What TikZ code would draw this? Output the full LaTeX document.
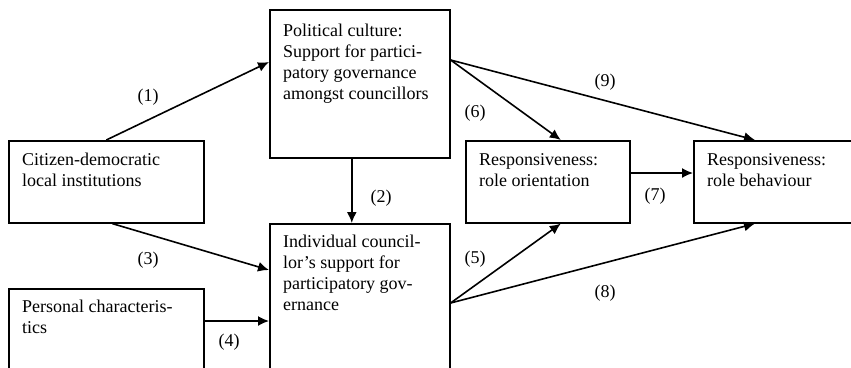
\documentclass[tikz,border=0pt]{standalone}
\usepackage{fontspec}
\setmainfont{Liberation Serif}
\usepackage{tikz}
\usetikzlibrary{arrows.meta,calc}

\tikzset{
    box/.style={draw, line width=1.6pt, minimum width=180, anchor=north west, inner sep=0},
    txt/.style={anchor=north west, inner sep=0, align=left, font=\fontsize{18}{21}\selectfont},
    lbl/.style={inner sep=0, font=\fontsize{18}{21}\selectfont},
    link/.style={line width=1.6pt, -{Latex[length=11,width=10]}}
}

\begin{document}
\begin{tikzpicture}[x=1pt, y=-1pt]
    \useasboundingbox (0,0) rectangle (851,367);
    \clip (0,0) rectangle (851,367);

    % boxes
    \node[box, minimum height=148] (pol) at (269,9) {};
    \node[box, minimum width=195, minimum height=82] (cit) at (8,140) {};
    \node[box, minimum height=160] (ind) at (269,223) {};
    \node[box, minimum width=195, minimum height=95] (per) at (8,288) {};
    \node[box, minimum width=164, minimum height=82] (ro) at (465,140) {};
    \node[box, minimum height=82] (rb) at (693,140) {};

    % texts
    \node[txt] (pol-t) at ($(pol.north west)+(14,15)$) {Political culture:\\Support for partici-\\patory governance\\amongst councillors};
    \node[txt] (cit-t) at ($(cit.north west)+(14,13)$) {Citizen-democratic\\local institutions};
    \node[txt] (ind-t) at ($(ind.north west)+(14,12)$) {Individual council-\\lor’s support for\\participatory gov-\\ernance};
    \node[txt] (per-t) at ($(per.north west)+(14,12)$) {Personal characteris-\\tics};
    \node[txt] (ro-t) at ($(ro.north west)+(14,13)$) {Responsiveness:\\role orientation};
    \node[txt] (rb-t) at ($(rb.north west)+(14,13)$) {Responsiveness:\\role behaviour};

    \coordinate (pol-r) at ($(pol.north east)+(0,51)$);
    \coordinate (ind-r) at ($(ind.north east)+(0,80)$);

    \draw[link] (cit.north) -- ($(pol.north west)+(0,53)$); % 1
    \draw[link] ([xshift=-8]pol.south) -- ([xshift=-8]ind.north); % 2
    \draw[link] ([xshift=6]cit.south) -- ($(ind.north west)+(0,47)$); % 3
    \draw[link] ($(per.north east)+(0,33)$) -- ($(ind.north west)+(0,98)$); % 4
    \draw[link] (ind-r) -- ([xshift=13]ro.south); % 5
    \draw[link] (pol-r) -- ([xshift=13]ro.north); % 6
    \draw[link] ($(ro.north east)+(0,33)$) -- ($(rb.north west)+(0,33)$); % 7
    \draw[link] (ind-r) -- ($(rb.south west)+(62,0)$); % 8
    \draw[link] (pol-r) -- ($(rb.north west)+(62,0)$); % 9

    \node[lbl] (l1) at (148,97) {(1)};
    \node[lbl] (l2) at (381,198) {(2)};
    \node[lbl] (l3) at (148,260) {(3)};
    \node[lbl] (l4) at (229,342) {(4)};
    \node[lbl] (l5) at (475,259) {(5)};
    \node[lbl] (l6) at (475,113) {(6)};
    \node[lbl] (l7) at (655,196) {(7)};
    \node[lbl] (l8) at (605,293) {(8)};
    \node[lbl] (l9) at (605,82) {(9)};
\end{tikzpicture}
\end{document}
